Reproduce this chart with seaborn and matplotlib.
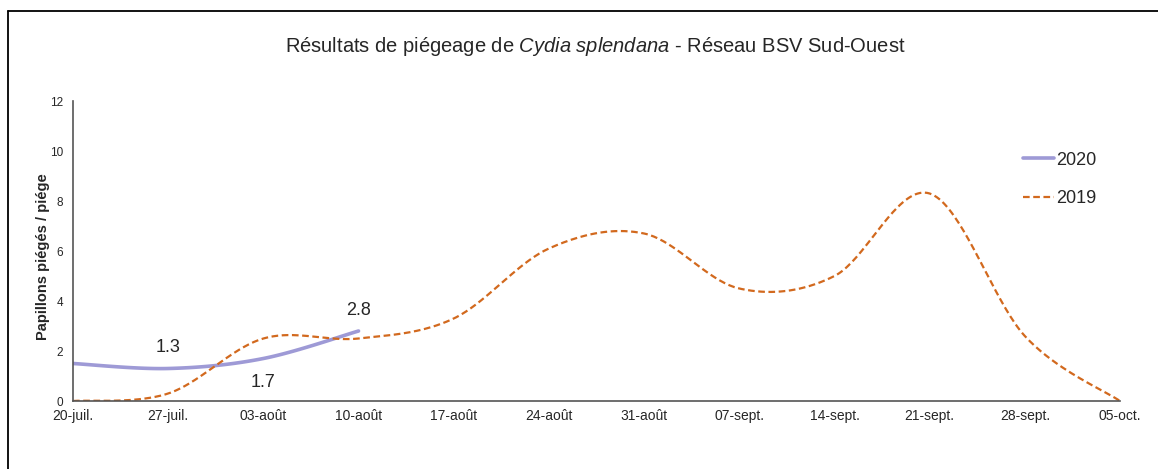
import matplotlib
matplotlib.use('Agg')
import matplotlib.pyplot as plt
import matplotlib.dates as mdates
from matplotlib.lines import Line2D
import numpy as np
import pandas as pd
import seaborn as sns

# Weekly trap counts
dates = ['2020-07-20', '2020-07-27', '2020-08-03', '2020-08-10', '2020-08-17', '2020-08-24',
         '2020-08-31', '2020-09-07', '2020-09-14', '2020-09-21', '2020-09-28', '2020-10-05']
tick_labels = ['20-juil.', '27-juil.', '03-août', '10-août', '17-août', '24-août',
               '31-août', '07-sept.', '14-sept.', '21-sept.', '28-sept.', '05-oct.']
values_2020 = [1.5, 1.3, 1.7, 2.8]
values_2019 = [0.0, 0.3, 2.5, 2.5, 3.3, 6.1, 6.7, 4.5, 5.0, 8.3, 2.6, 0.0]
labels_2020 = ['', '1.3', '1.7', '2.8']
label_side_2020 = ['', 'above', 'below', 'above']

color_2020 = '#9e9ad6'
color_2019 = '#d2691e'


def smooth(x, y, n=40):
    # Excel-style smoothed line: Bezier segments with Catmull-Rom control points
    x = np.asarray(x, float)
    y = np.asarray(y, float)
    px = np.concatenate([[x[0]], x, [x[-1]]])
    py = np.concatenate([[y[0]], y, [y[-1]]])
    xs, ys = [], []
    t = np.linspace(0, 1, n)
    for i in range(1, len(px) - 2):
        x0, x1, x2, x3 = px[i - 1], px[i], px[i + 1], px[i + 2]
        y0, y1, y2, y3 = py[i - 1], py[i], py[i + 1], py[i + 2]
        c1x, c1y = x1 + (x2 - x0) / 6, y1 + (y2 - y0) / 6
        c2x, c2y = x2 - (x3 - x1) / 6, y2 - (y3 - y1) / 6
        bx = (1 - t) ** 3 * x1 + 3 * (1 - t) ** 2 * t * c1x + 3 * (1 - t) * t ** 2 * c2x + t ** 3 * x2
        by = (1 - t) ** 3 * y1 + 3 * (1 - t) ** 2 * t * c1y + 3 * (1 - t) * t ** 2 * c2y + t ** 3 * y2
        xs.extend(bx)
        ys.extend(by)
    return np.array(xs), np.array(ys)


sns.set_style("white")
plt.rcParams['font.family'] = ['Liberation Sans', 'DejaVu Sans']
plt.rcParams['mathtext.fontset'] = 'custom'
plt.rcParams['mathtext.rm'] = 'Liberation Sans'
plt.rcParams['mathtext.it'] = 'Liberation Sans:italic'

xnum = mdates.date2num(pd.to_datetime(dates))

fig = plt.figure(figsize=(11.58, 4.69), dpi=100)
ax = fig.add_axes([73 / 1158, 68 / 469, 1047 / 1158, 300 / 469])

sx19, sy19 = smooth(xnum, values_2019)
sx20, sy20 = smooth(xnum[:len(values_2020)], values_2020)

df20 = pd.DataFrame({'x': sx20, 'y': sy20})
df19 = pd.DataFrame({'x': sx19, 'y': sy19})
sns.lineplot(data=df20, x='x', y='y', ax=ax, color=color_2020, linewidth=2.6,
             label='2020', sort=False, estimator=None)
sns.lineplot(data=df19, x='x', y='y', ax=ax, color=color_2019, linewidth=1.6,
             label='2019', sort=False, estimator=None, dashes=False)
ax.lines[-1].set_linestyle((0, (3, 1.6)))

# data labels for 2020
for xi, v, lab, side in zip(xnum, values_2020, labels_2020, label_side_2020):
    if not lab:
        continue
    off = 9 if side == 'above' else -11
    ax.annotate(lab, (xi, v), xytext=(0, off), textcoords='offset points',
                ha='center', va='bottom' if side == 'above' else 'top', fontsize=13)

ax.set_xlim(xnum[0], xnum[-1])
ax.set_ylim(0, 12)
ax.set_xticks(xnum)
ax.set_xticklabels(tick_labels, fontsize=10)
ax.set_yticks(range(0, 13, 2))
ax.tick_params(axis='y', labelsize=8.5, direction='out', length=4, width=1, color='#404040', pad=3)
ax.tick_params(axis='x', direction='inout', length=8, width=1, color='#404040', pad=2)
ax.set_xlabel('')
ax.set_ylabel('Papillons piégés / piége', fontsize=10.5, fontweight='bold')
ax.yaxis.set_label_coords(-0.022, 0.48)

for s in ['top', 'right']:
    ax.spines[s].set_visible(False)
for s in ['left', 'bottom']:
    ax.spines[s].set_color('#555555')
    ax.spines[s].set_linewidth(1.2)

leg = ax.legend(loc='upper left', bbox_to_anchor=(0.892, 0.885), frameon=False,
                fontsize=13, handlelength=1.7, handletextpad=0.1, labelspacing=1.2)
leg.get_lines()[1].set_linestyle((0, (3, 1.6)))

fig.text(595 / 1158, 1 - 47 / 469, 'Résultats de piégeage de $\\it{Cydia\\ splendana}$ - Réseau BSV Sud-Ouest',
         ha='center', va='center', fontsize=14.5)

# chart border (left and top edges visible in the reference)
fig.add_artist(Line2D([8 / 1158, 8 / 1158], [0, 1 - 11 / 469], transform=fig.transFigure, color='black', lw=1.3))
fig.add_artist(Line2D([8 / 1158, 1], [1 - 11 / 469, 1 - 11 / 469], transform=fig.transFigure, color='black', lw=1.3))

fig.savefig('out.png', dpi=100)
